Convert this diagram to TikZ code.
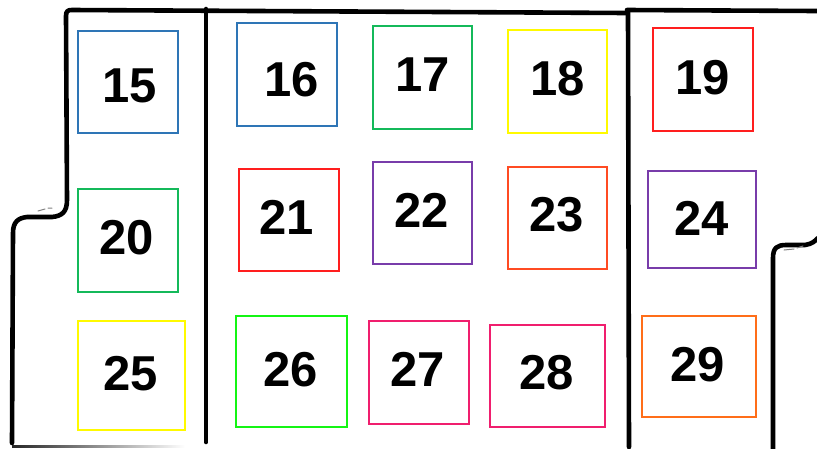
\documentclass[tikz,border=0pt]{standalone}
\usepackage{fontspec}
\setmainfont{Liberation Sans}
\definecolor{cblue}{RGB}{46,117,182}
\definecolor{cgreen}{RGB}{20,185,90}
\definecolor{cyellow}{RGB}{255,250,0}
\definecolor{cred}{RGB}{255,30,30}
\definecolor{cpurple}{RGB}{120,60,170}
\definecolor{cored}{RGB}{255,75,35}
\definecolor{clime}{RGB}{20,245,20}
\definecolor{cpink}{RGB}{240,30,110}
\definecolor{corange}{RGB}{255,110,25}
\begin{document}
\begin{tikzpicture}[x=1pt,y=-1pt,
  wall/.style={line width=4.6pt, line cap=round, line join=round, black},
  slotbox/.style={draw, line width=1.1pt, inner sep=0pt, rectangle},
  numtext/.style={inner sep=0pt, font=\fontsize{49}{49}\selectfont\bfseries}]
\useasboundingbox (0,0) rectangle (817,448);
% outline
\draw[wall] (12,443) -- (13,233) .. controls (13,222) and (18,218) .. (27,217)
  -- (52,217) .. controls (62,216) and (67,212) .. (67,200) -- (66,16)
  .. controls (66,11) and (68,10) .. (72,10) -- (627,13);
\draw[wall] (627,10) -- (817,11);
\draw[wall] (206,9) -- (206,442);
\draw[wall] (628,12) -- (629,447);
\draw[wall] (773,449) -- (773,258) .. controls (773,248) and (777,245) .. (786,245)
  -- (805,245) .. controls (812,244) and (815,241) .. (818,238);
\shade[left color=black!85, right color=white] (12,445) rectangle (185,447.5);
\draw[gray, line width=1pt, line cap=round] (38,211) -- (45,209) (48,208) -- (52,208);
\draw[gray, line width=1pt, line cap=round] (784,250) -- (794,249) (797,248) -- (803,246);
% boxes
\node[slotbox, draw=cblue, minimum width=100pt, minimum height=102pt] (b15) at (128,82) {};
\node[slotbox, draw=cgreen, minimum width=100pt, minimum height=103pt] (b20) at (128,240.5) {};
\node[slotbox, draw=cyellow, minimum width=107pt, minimum height=109pt] (b25) at (131.5,375.5) {};
\node[slotbox, draw=cblue, minimum width=100pt, minimum height=103pt] (b16) at (287,74.5) {};
\node[slotbox, draw=cgreen, minimum width=99pt, minimum height=103pt] (b17) at (422.5,77.5) {};
\node[slotbox, draw=cyellow, minimum width=99pt, minimum height=103pt] (b18) at (557.5,81.5) {};
\node[slotbox, draw=cred, minimum width=100pt, minimum height=102pt] (b21) at (289,220) {};
\node[slotbox, draw=cpurple, minimum width=99pt, minimum height=102pt] (b22) at (422.5,213) {};
\node[slotbox, draw=cored, minimum width=99pt, minimum height=102pt] (b23) at (557.5,218) {};
\node[slotbox, draw=clime, minimum width=111pt, minimum height=111pt] (b26) at (291.5,371.5) {};
\node[slotbox, draw=cpink, minimum width=100pt, minimum height=103pt] (b27) at (419,372.5) {};
\node[slotbox, draw=cpink, minimum width=115pt, minimum height=102pt] (b28) at (547.5,376) {};
\node[slotbox, draw=cred, minimum width=100pt, minimum height=103pt] (b19) at (703,79.5) {};
\node[slotbox, draw=cpurple, minimum width=108pt, minimum height=97pt] (b24) at (702,219.5) {};
\node[slotbox, draw=corange, minimum width=114pt, minimum height=101pt] (b29) at (699,366.5) {};
% labels
\node[numtext] (t15) at (130,86) {15};
\node[numtext] (t20) at (127,238) {20};
\node[numtext] (t25) at (131,374) {25};
\node[numtext] (t16) at (292,80) {16};
\node[numtext] (t17) at (423,75) {17};
\node[numtext] (t18) at (558,79) {18};
\node[numtext] (t21) at (287,217) {21};
\node[numtext] (t22) at (422,210) {22};
\node[numtext] (t23) at (557,215) {23};
\node[numtext] (t26) at (291,370) {26};
\node[numtext] (t27) at (418,369) {27};
\node[numtext] (t28) at (547,373) {28};
\node[numtext] (t19) at (703,78) {19};
\node[numtext] (t24) at (702,218) {24};
\node[numtext] (t29) at (698,365) {29};
\end{tikzpicture}
\end{document}
